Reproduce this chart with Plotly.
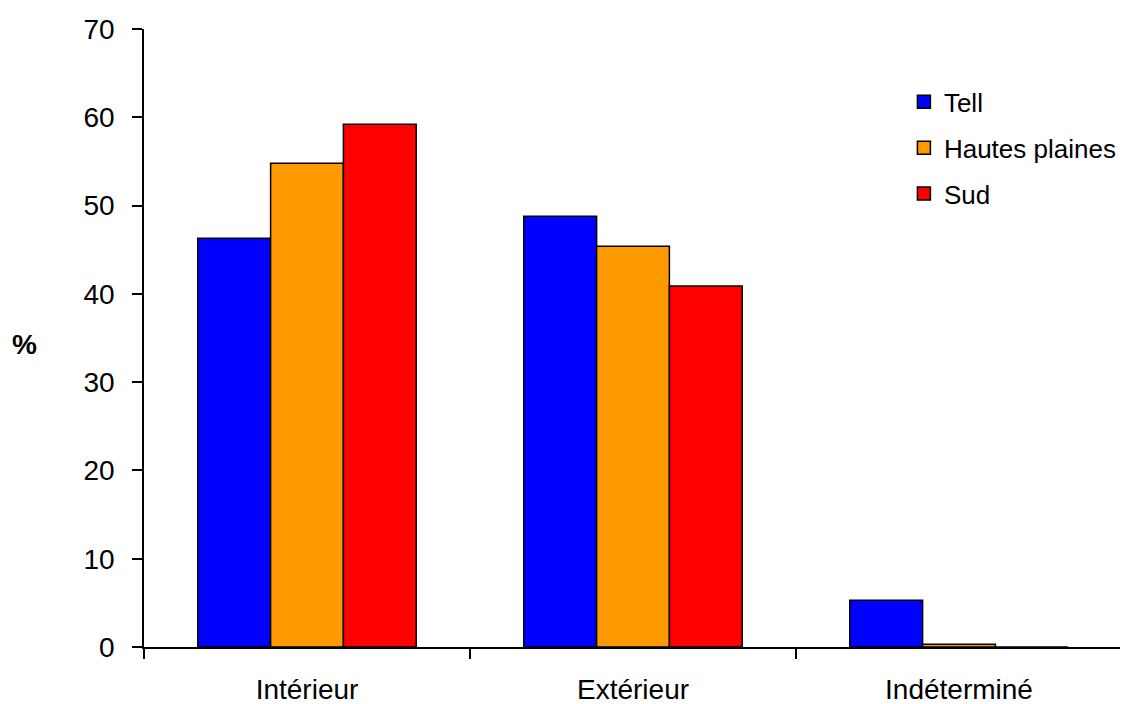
import plotly.graph_objects as go

categories = ["Intérieur", "Extérieur", "Indéterminé"]
series_names = ["Tell", "Hautes plaines", "Sud"]
tell = [46.3, 48.8, 5.3]
hautes_plaines = [54.8, 45.4, 0.3]
sud = [59.2, 40.9, 0.0]
colors = ["#0000FF", "#FF9900", "#FF0000"]
y_ticks = [0, 10, 20, 30, 40, 50, 60, 70]

fig = go.Figure()
for name, vals, col in zip(series_names, [tell, hautes_plaines, sud], colors):
    fig.add_trace(go.Bar(
        x=categories, y=vals, name=name, showlegend=False,
        marker=dict(color=col, line=dict(color="black", width=1.5)),
    ))
for i, (name, col) in enumerate(zip(series_names, colors)):
    fig.add_trace(go.Scatter(
        x=[None], y=[None], mode="markers", name=name, legendgroup=str(i),
        marker=dict(symbol="square", size=13, color=col, line=dict(color="black", width=1.5)),
    ))

FAM = "Liberation Sans, Arial, sans-serif"
font = dict(family=FAM, size=28, color="black")

# page body has an 8px default margin; compensate
W, H = 1120, 696
ML, MR, MT, MB = 136, 6, 21, 57
pw, ph = W - ML - MR, H - MT - MB

fig.update_layout(
    width=W, height=H,
    margin=dict(l=ML, r=MR, t=MT, b=MB, autoexpand=False),
    paper_bgcolor="white", plot_bgcolor="white",
    font=font,
    barmode="group", bargap=0.33, bargroupgap=0,
    showlegend=True,
    legend=dict(x=0.777, y=0.92, xanchor="left", yanchor="top",
                font=dict(family=FAM, size=26, color="black"),
                tracegroupgap=9, itemwidth=30, bgcolor="rgba(0,0,0,0)"),
    xaxis=dict(showline=True, linecolor="black", linewidth=1.5, automargin=False,
               ticks="outside", tickson="boundaries", ticklen=10, tickcolor="black", tickwidth=1.5,
               showgrid=False, zeroline=False, tickfont=font, ticklabelstandoff=17),
    yaxis=dict(range=[0, 70], tickvals=y_ticks, showline=True, linecolor="black", linewidth=1.5,
               automargin=False,
               ticks="outside", ticklen=10, tickcolor="black", tickwidth=1.5,
               showgrid=False, zeroline=False, tickfont=font, ticklabelstandoff=12),
    annotations=[dict(text="<b>%</b>", x=(24 - 8 - ML) / pw, y=(H - MB - (345 - 8)) / ph,
                      xref="paper", yref="paper", xanchor="center", yanchor="middle",
                      showarrow=False, font=font)],
)

fig.write_html("out.html")
